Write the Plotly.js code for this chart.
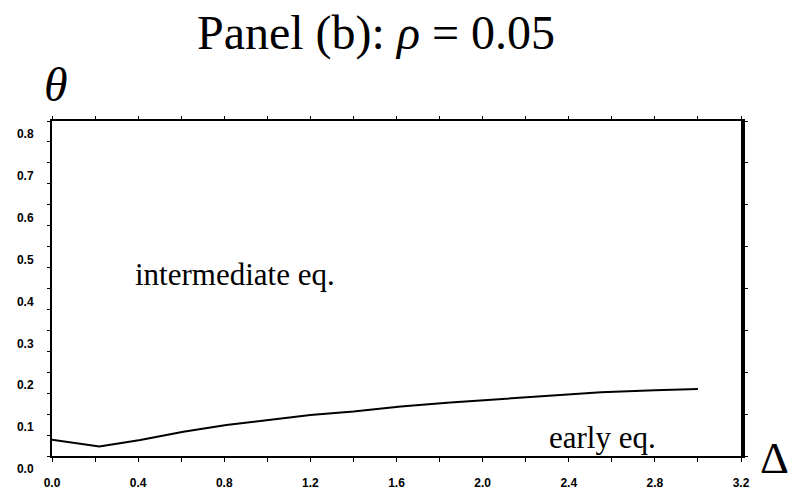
<!DOCTYPE html>
<html>
<head>
<meta charset="utf-8">
<script src="https://cdn.plot.ly/plotly-3.0.1.min.js"></script>
<style>html,body{margin:0;padding:0;background:#fff;}#chart{width:790px;height:491px;}</style>
</head>
<body>
<div id="chart"></div>
<script>
// Boundary curve between "early eq." (below) and "intermediate eq." (above)
const deltaValues = [0, 0.22, 0.41, 0.61, 0.81, 1.0, 1.2, 1.4, 1.62, 1.85, 2.08, 2.3, 2.55, 2.8, 3.0];
const thetaValues = [0.039, 0.023, 0.038, 0.058, 0.074, 0.086, 0.098, 0.106, 0.118, 0.128, 0.136, 0.144, 0.152, 0.157, 0.160];

const titleText = 'Panel (b): <i>ρ</i> = 0.05';
const regionLabels = ['intermediate eq.', 'early eq.'];
const regionX = [0.375, 2.30];
const regionY = [0.434, 0.043];

const tickFont = {family: 'Liberation Sans', size: 12, color: '#000', weight: 'bold'};
const serif = 'Liberation Serif';

const traces = [
  {x: deltaValues, y: thetaValues, type: 'scatter', mode: 'lines',
   line: {color: '#000', width: 2}, hoverinfo: 'skip', showlegend: false},
  {x: [], y: [], xaxis: 'x2', yaxis: 'y2', type: 'scatter', mode: 'lines', showlegend: false, hoverinfo: 'skip'}
];

const layout = {
  width: 790, height: 491,
  margin: {l: 52, r: 49, t: 121, b: 35},
  paper_bgcolor: '#fff', plot_bgcolor: '#fff',
  showlegend: false,
  font: {family: serif, color: '#000'},
  title: {text: titleText, font: {family: serif, size: 48, color: '#000'},
          x: 376/790, xanchor: 'center', xref: 'container',
          y: 1 - 32/491, yanchor: 'middle', yref: 'container'},
  xaxis: {range: [0, 3.2], showline: true, linewidth: 2, linecolor: '#000',
          ticks: 'outside', ticklen: 4, tickwidth: 1, tickcolor: '#000',
          tick0: 0, dtick: 0.4, tickformat: '.1f', tickfont: tickFont,
          ticklabelstandoff: 11,
          minor: {dtick: 0.2, ticks: 'outside', ticklen: 4, tickwidth: 1, tickcolor: '#000', showgrid: false},
          showgrid: false, zeroline: false, fixedrange: true},
  yaxis: {range: [0, 0.8], showline: true, linewidth: 2, linecolor: '#000',
          ticks: 'outside', ticklen: 3, tickwidth: 1, tickcolor: '#000',
          tick0: 0, dtick: 0.1, tickformat: '.1f', tickfont: tickFont,
          ticklabelshift: 13, ticklabelstandoff: 11,
          minor: {dtick: 0.05, ticks: 'outside', ticklen: 3, tickwidth: 1, tickcolor: '#000', showgrid: false},
          showgrid: false, zeroline: false, fixedrange: true},
  xaxis2: {overlaying: 'x', side: 'top', anchor: 'y', range: [0, 3.2],
           showline: true, linewidth: 2, linecolor: '#000',
           ticks: 'outside', ticklen: 3, tickwidth: 1, tickcolor: '#000',
           tick0: 0, dtick: 0.2, showticklabels: false,
           showgrid: false, zeroline: false, fixedrange: true},
  yaxis2: {overlaying: 'y', side: 'right', anchor: 'x', range: [0, 0.8],
           showline: true, linewidth: 4, linecolor: '#000',
           ticks: 'outside', ticklen: 3, tickwidth: 1, tickcolor: '#000',
           tick0: 0, dtick: 0.1, showticklabels: false,
           showgrid: false, zeroline: false, fixedrange: true},
  annotations: [
    {text: regionLabels[0], x: regionX[0], y: regionY[0], xref: 'x', yref: 'y',
     xanchor: 'left', yanchor: 'middle', showarrow: false,
     font: {family: serif, size: 31, color: '#000'}},
    {text: regionLabels[1], x: regionX[1], y: regionY[1], xref: 'x', yref: 'y',
     xanchor: 'left', yanchor: 'middle', showarrow: false,
     font: {family: serif, size: 31, color: '#000'}},
    {text: '<i>θ</i>', x: 0.006, y: 1.11, xref: 'paper', yref: 'paper',
     xanchor: 'center', yanchor: 'middle', showarrow: false,
     font: {family: serif, size: 48, color: '#000'}},
    {text: 'Δ', x: 1.048, y: -0.006, xref: 'paper', yref: 'paper',
     xanchor: 'center', yanchor: 'middle', showarrow: false,
     font: {family: serif, size: 45, color: '#000'}}
  ]
};

Plotly.newPlot('chart', traces, layout, {displayModeBar: false, staticPlot: true});
</script>
</body>
</html>
